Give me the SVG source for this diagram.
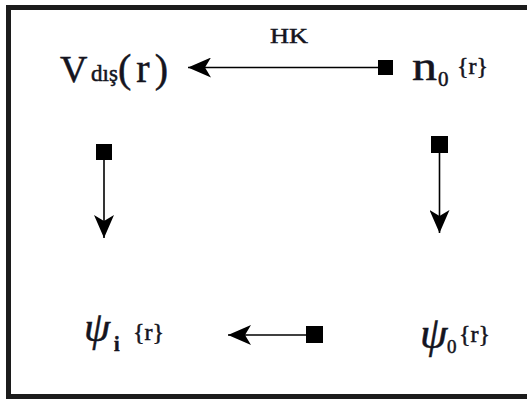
<svg xmlns="http://www.w3.org/2000/svg" width="527" height="402" viewBox="0 0 527 402">
<defs>
<marker id="ah" markerWidth="24" markerHeight="20" refX="23" refY="10" orient="auto" markerUnits="userSpaceOnUse">
<path d="M0,0 L23,10 L0,20 L6,10 Z" fill="#000"/>
</marker>
<style>
.t{font-family:"Liberation Serif","Times New Roman",serif;fill:#141420;stroke:#141420;stroke-width:0.5}
.c{stroke:#000;stroke-width:1.6;fill:none}
.sq{fill:#000}
</style>
</defs>
<rect width="527" height="402" fill="#fff"/>
<path d="M540,7.5 H8.5 V396.5 H540" fill="none" stroke="#1c1c1c" stroke-width="5"/>
<g id="connectors">
<line class="c" x1="379" y1="67.5" x2="188" y2="67.5" marker-end="url(#ah)"/>
<rect class="sq" x="378" y="60" width="15" height="15"/>
<line class="c" x1="104" y1="160" x2="104" y2="238" marker-end="url(#ah)"/>
<rect class="sq" x="96" y="144" width="16" height="16"/>
<line class="c" x1="439.5" y1="152" x2="439.5" y2="233" marker-end="url(#ah)"/>
<rect class="sq" x="431" y="136" width="17" height="17"/>
<line class="c" x1="307" y1="335" x2="228" y2="335" marker-end="url(#ah)"/>
<rect class="sq" x="306" y="326" width="17" height="17"/>
<text class="t" x="270" y="43" font-size="22" textLength="38" lengthAdjust="spacingAndGlyphs">HK</text>
</g>
<g id="vdis">
<text class="t" x="60" y="82" font-size="38">V</text>
<text class="t" x="91" y="81" font-size="23">dış</text>
<text class="t" x="118" y="82" font-size="40" textLength="50" lengthAdjust="spacing">(r)</text>
</g>
<g id="n0">
<text class="t" x="412" y="80" font-size="40" textLength="25" lengthAdjust="spacingAndGlyphs">n</text>
<text class="t" x="438" y="86" font-size="21">0</text>
<text class="t" x="457" y="74" font-size="24">{r}</text>
</g>
<g id="psii">
<text class="t" x="84" y="341" font-size="42" font-style="italic">ψ</text>
<text class="t" x="114" y="351" font-size="20" font-weight="bold">i</text>
<text class="t" x="133" y="340" font-size="24">{r}</text>
</g>
<g id="psi0">
<text class="t" x="420" y="348" font-size="44" font-style="italic">ψ</text>
<text class="t" x="447" y="353" font-size="19">0</text>
<text class="t" x="459" y="342" font-size="24">{r}</text>
</g>
</svg>
